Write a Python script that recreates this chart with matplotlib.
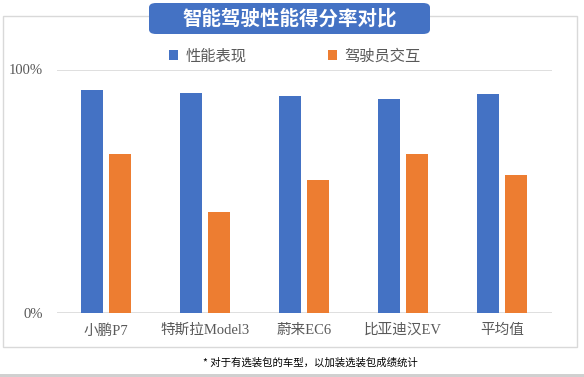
import matplotlib
matplotlib.use("Agg")
import matplotlib.pyplot as plt
import numpy as np
from matplotlib.patches import Rectangle, FancyBboxPatch, Patch

plt.rcParams['font.family'] = ['Liberation Serif', 'Noto Sans CJK SC', 'DejaVu Sans']

# data
models = ["小鹏P7", "特斯拉Model3", "蔚来EC6", "比亚迪汉EV", "平均值"]
performance = [0.916, 0.904, 0.892, 0.879, 0.898]
interaction = [0.653, 0.414, 0.546, 0.653, 0.567]
series_names = ["性能表现", "驾驶员交互"]
title = "智能驾驶性能得分率对比"
footnote = "* 对于有选装包的车型，以加装选装包成绩统计"

blue = "#4472C4"
orange = "#ED7D31"
grid_c = "#D9D9D9"
text_c = "#595959"

W, H = 584, 377
fig = plt.figure(figsize=(W / 100, H / 100), dpi=100)

# outer frame
fig.patches.append(Rectangle((3 / W, (H - 347) / H), 574 / W, 331 / H,
                             transform=fig.transFigure, fill=False,
                             edgecolor=grid_c, lw=1.0, zorder=0))
# grey strip at the bottom
fig.patches.append(Rectangle((0, 0), 1, 3 / H, transform=fig.transFigure,
                             facecolor="#D0D0D0", edgecolor="none", zorder=0))

ax = fig.add_axes([56.5 / W, (H - 312.7) / H, 495 / W, 243.2 / H])
x = np.arange(len(models))
bw = 0.222
off = 0.141
ax.bar(x - off, performance, width=bw, color=blue, zorder=3)
ax.bar(x + off, interaction, width=bw, color=orange, zorder=3)

ax.set_xlim(-0.5, len(models) - 0.5)
ax.set_ylim(0, 1)
ax.set_yticks([0, 1])
ax.set_yticklabels(["0%", "100%"])
for y in [0, 1]:
    ax.axhline(y, color=grid_c, lw=1.2, zorder=1)
ax.set_xticks(x)
ax.set_xticklabels(models)
ax.tick_params(axis="both", length=0, colors=text_c, labelsize=10.5)
ax.tick_params(axis="y", pad=10)
ax.tick_params(axis="x", pad=8)
for s in ax.spines.values():
    s.set_visible(False)
ax.patch.set_visible(False)

handles = [Patch(facecolor=blue), Patch(facecolor=orange)]
fig.legend(handles, series_names, loc="center", ncol=2,
           bbox_to_anchor=(295 / W, 1 - 56 / H), frameon=False,
           prop={"family": ["Noto Sans CJK SC"], "size": 11},
           labelcolor=text_c, handlelength=0.6, handleheight=0.6,
           handletextpad=0.5, columnspacing=5.3)

# title box
fig.patches.append(FancyBboxPatch((149 / W, (H - 34) / H), 281 / W, 31 / H,
                                  boxstyle="round,pad=0,rounding_size=0.012",
                                  transform=fig.transFigure, facecolor=blue,
                                  edgecolor="none", zorder=2))
fig.text(289.5 / W, 1 - 18.5 / H, title, ha="center", va="center",
         color="white", fontsize=14, fontweight="bold",
         family=["Noto Sans CJK SC"], zorder=3)

fig.text(310 / W, 1 - 363 / H, footnote, ha="center", va="center",
         color="black", fontsize=7.5, family=["Noto Sans CJK SC"])

fig.savefig("out.png", dpi=100)
